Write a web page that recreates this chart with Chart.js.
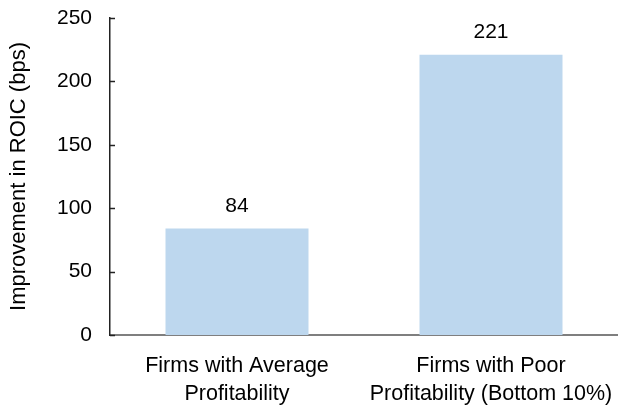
<!DOCTYPE html>
<html>
<head>
<meta charset="utf-8">
<script src="https://cdn.jsdelivr.net/npm/chart.js@4.4.1/dist/chart.umd.min.js"></script>
<style>
  html, body { margin: 0; padding: 0; background: #fff; }
  #wrap { width: 618px; height: 407px; }
</style>
</head>
<body>
<div id="wrap"><canvas id="roic-chart"></canvas></div>
<script>
const categories = [
    ['Firms with Average', 'Profitability'],
    ['Firms with Poor', 'Profitability (Bottom 10%)']
];
const improvementBps = [84, 221];
const yTicks = [0, 50, 100, 150, 200, 250];

const FONT = '"Liberation Sans", Arial, sans-serif';

// value labels above each bar
const barLabels = {
    id: 'barLabels',
    afterDatasetsDraw(chart) {
        const { ctx } = chart;
        const meta = chart.getDatasetMeta(0);
        ctx.save();
        ctx.fillStyle = '#000';
        ctx.font = `21px ${FONT}`;
        ctx.textAlign = 'center';
        ctx.textBaseline = 'bottom';
        meta.data.forEach((bar, i) => {
            ctx.fillText(String(improvementBps[i]), bar.x, bar.y - 12);
        });
        ctx.restore();
    }
};

// short tick marks pointing into the plot
const innerTicks = {
    id: 'innerTicks',
    afterDraw(chart) {
        const { ctx } = chart;
        const y = chart.scales.y;
        ctx.save();
        ctx.strokeStyle = '#222';
        ctx.lineWidth = 1.5;
        y.ticks.forEach((t, i) => {
            const py = Math.round(y.getPixelForTick(i)) + 0.5;
            ctx.beginPath();
            ctx.moveTo(y.right, py);
            ctx.lineTo(y.right + 5, py);
            ctx.stroke();
        });
        ctx.restore();
    }
};

new Chart(document.getElementById('roic-chart'), {
    type: 'bar',
    data: {
        labels: categories,
        datasets: [{
            data: improvementBps,
            backgroundColor: '#BDD7EE',
            borderWidth: 0,
            barPercentage: 0.563,
            categoryPercentage: 1
        }]
    },
    options: {
        responsive: true,
        maintainAspectRatio: false,
        animation: false,
        layout: { padding: { top: 18, right: 0, left: 0, bottom: 0 } },
        plugins: {
            legend: { display: false },
            tooltip: { enabled: false }
        },
        scales: {
            x: {
                grid: { display: false, drawTicks: false },
                border: { color: '#7f7f7f', width: 2 },
                ticks: {
                    color: '#000',
                    font: { family: FONT, size: 21.5, lineHeight: 1.3 },
                    padding: 17,
                    maxRotation: 0,
                    autoSkip: false
                },
                afterFit(scale) {
                    scale.height = 72;
                    scale.paddingLeft = 0;
                    scale.paddingRight = 0;
                }
            },
            y: {
                min: 0,
                max: 250,
                afterBuildTicks(scale) { scale.ticks = yTicks.map(v => ({ value: v })); },
                grid: { display: false, drawTicks: false },
                border: { color: '#222', width: 1.5 },
                ticks: {
                    color: '#000',
                    font: { family: FONT, size: 21 },
                    padding: 18
                },
                title: {
                    display: true,
                    text: 'Improvement in ROIC (bps)',
                    color: '#000',
                    font: { family: FONT, size: 22 },
                    padding: { top: 6, bottom: 0 }
                },
                afterFit(scale) {
                    scale.width = 110;
                    scale.paddingTop = 0;
                    scale.paddingBottom = 0;
                }
            }
        }
    },
    plugins: [barLabels, innerTicks]
});
</script>
</body>
</html>
